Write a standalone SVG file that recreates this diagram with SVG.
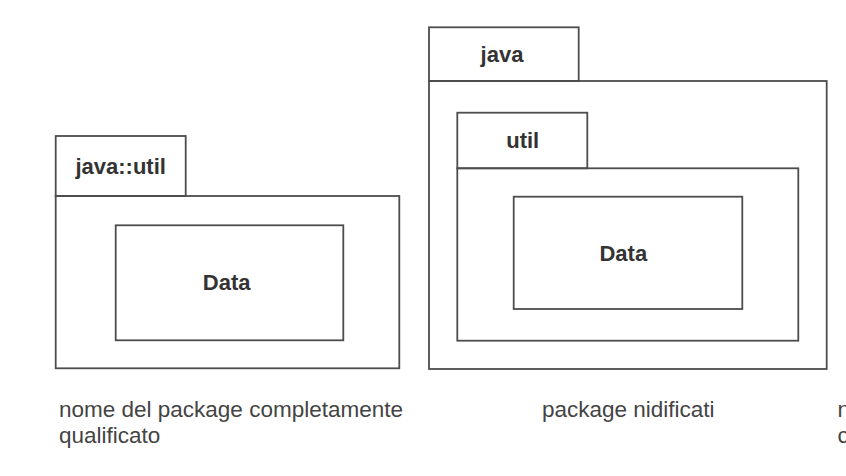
<svg xmlns="http://www.w3.org/2000/svg" width="846" height="476" viewBox="0 0 846 476">
<style>
.box{fill:none;stroke:#4d4d4d;stroke-width:1.8}
.b{font-family:"Liberation Sans",Arial,sans-serif;font-weight:bold;font-size:22px;fill:#333;text-anchor:middle}
.r{font-family:"Liberation Sans",Arial,sans-serif;font-size:22.5px;fill:#444}
</style>
<rect width="846" height="476" fill="#fff"/>
<g id="pkg-java-util">
<rect class="box" x="55.7" y="136" width="130" height="60"/>
<rect class="box" x="55.7" y="196" width="343.6" height="172.3"/>
<text class="b" x="120.7" y="173.5">java::util</text>
</g>
<g id="data-left">
<rect class="box" x="115.7" y="225.3" width="227.6" height="115"/>
<text class="b" x="226.7" y="290">Data</text>
</g>
<g id="pkg-java">
<rect class="box" x="429" y="27.3" width="149.7" height="53.7"/>
<rect class="box" x="429" y="81" width="397.7" height="288"/>
<text class="b" x="502" y="61.7">java</text>
</g>
<g id="pkg-util">
<rect class="box" x="457.3" y="112.7" width="130" height="55.6"/>
<rect class="box" x="457.3" y="168.3" width="341" height="172.4"/>
<text class="b" x="522.7" y="148.3">util</text>
</g>
<g id="data-right">
<rect class="box" x="513.7" y="196.7" width="228.6" height="112.3"/>
<text class="b" x="623.3" y="260.7">Data</text>
</g>
<g id="connectors"></g>
<g id="captions">
<text class="r" x="59" y="417">nome del package completamente</text>
<text class="r" x="59" y="443">qualificato</text>
<text class="r" x="542" y="417">package nidificati</text>
<text class="r" x="837.5" y="417">n</text>
<text class="r" x="837.5" y="443">c</text>
</g>
</svg>
